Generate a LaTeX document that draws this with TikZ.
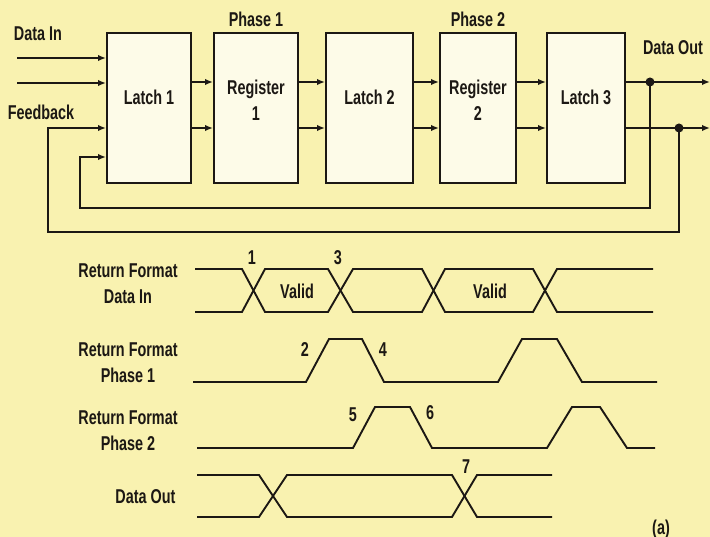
\documentclass[tikz,border=0pt]{standalone}
\usepackage{fontspec}
\setmainfont{Liberation Sans}[FakeStretch=0.72]
\usetikzlibrary{arrows.meta}
\definecolor{paper}{RGB}{249,242,176}
\definecolor{boxfill}{RGB}{253,251,232}
\definecolor{ink}{RGB}{28,24,20}

\begin{document}
\begin{tikzpicture}[x=1pt, y=-1pt, >={Latex[length=8pt,width=6.5pt]},
    every node/.style={font=\bfseries\fontsize{20}{26}\selectfont, text=ink},
    blk/.style={draw=ink, line width=2pt, fill=boxfill, minimum height=150pt, inner sep=0pt},
    blktxt/.style={align=center, yshift=#1},
    wire/.style={draw=ink, line width=2pt},
    sig/.style={draw=ink, line width=1.9pt},
    dot/.style={circle, fill=ink, inner sep=0pt, minimum size=9pt}]

\fill[paper] (0,0) rectangle (710,537);
\useasboundingbox (0,0) rectangle (710,537);

\node[blk, minimum width=84pt, label={[blktxt=11pt]center:Latch 1}] (latchA) at (149,108) {};
\node[blk, minimum width=84pt, label={[blktxt=8pt]center:Register\\1}] (regA) at (256,108) {};
\node[blk, minimum width=87pt, label={[blktxt=11pt]center:Latch 2}] (latchB) at (369.5,108) {};
\node[blk, minimum width=76pt, label={[blktxt=8pt]center:Register\\2}] (regB) at (478,108) {};
\node[blk, minimum width=78pt, label={[blktxt=11pt]center:Latch 3}] (latchC) at (586,108) {};

\node (phaseA) at (256,19) {Phase 1};
\node (phaseB) at (478,19) {Phase 2};
\node (dataIn) at (38,34) {Data In};
\node (feedback) at (41,112) {Feedback};
\node (dataOut) at (673,48) {Data Out};

\coordinate (inA) at (17,58);
\coordinate (inB) at (17,83);
\draw[wire,->] (inA) -- (latchA.west |- inA);
\draw[wire,->] (inB) -- (latchA.west |- inB);

\foreach \a/\b in {latchA/regA, regA/latchB, latchB/regB, regB/latchC}
{
    \foreach \y in {82,128}
        \draw[wire,->] (\a.east |- 0,\y) -- (\b.west |- 0,\y);
}

\node[dot] (tapA) at (650,82) {};
\node[dot] (tapB) at (679,128) {};
\coordinate (outA) at (710,82);
\coordinate (outB) at (710,128);
\draw[wire,->] (latchC.east |- tapA) -- (outA);
\draw[wire,->] (latchC.east |- tapB) -- (outB);

\draw[wire,->] (tapA.center) |- (80,208) |- (latchA.west |- 0,157);
\draw[wire,->] (tapB.center) |- (48,232) |- (latchA.west |- 0,128);

\node[align=center] (rowA) at (128,284) {Return Format\\Data In};
\node[align=center] (rowB) at (128,363) {Return Format\\Phase 1};
\node[align=center] (rowC) at (128,431) {Return Format\\Phase 2};
\node[anchor=east] (rowD) at (179,497) {Data Out};

\draw[sig] (195,269) -- (242,269) -- (265,312) -- (328,312) -- (353,269) -- (422,269)
    -- (445,312) -- (533,312) -- (557,269) -- (653,269);
\draw[sig] (195,312) -- (242,312) -- (265,269) -- (328,269) -- (353,312) -- (422,312)
    -- (445,269) -- (533,269) -- (557,312) -- (653,312);
\node (validA) at (297,291) {Valid};
\node (validB) at (490,291) {Valid};

\draw[sig] (193,382) -- (306,382) -- (329,339) -- (362,339) -- (384,382) -- (498,382)
    -- (522,339) -- (557,339) -- (582,382) -- (657,382);

\draw[sig] (197,448) -- (353,448) -- (375,407) -- (410,407) -- (432,448) -- (547,448)
    -- (572,407) -- (600,407) -- (627,448) -- (655,448);

\draw[sig] (197,475) -- (259,475) -- (287,517) -- (452,517) -- (477,475) -- (552,475);
\draw[sig] (197,517) -- (259,517) -- (287,475) -- (452,475) -- (477,517) -- (552,517);

\node (evA) at (252,258) {1};
\node (evC) at (338,258) {3};
\node (evB) at (305,350) {2};
\node (evD) at (383,350) {4};
\node (evE) at (353,415) {5};
\node (evF) at (430,413) {6};
\node (evG) at (466,467) {7};

\node (tag) at (661,529) {(a)};

\end{tikzpicture}
\end{document}
